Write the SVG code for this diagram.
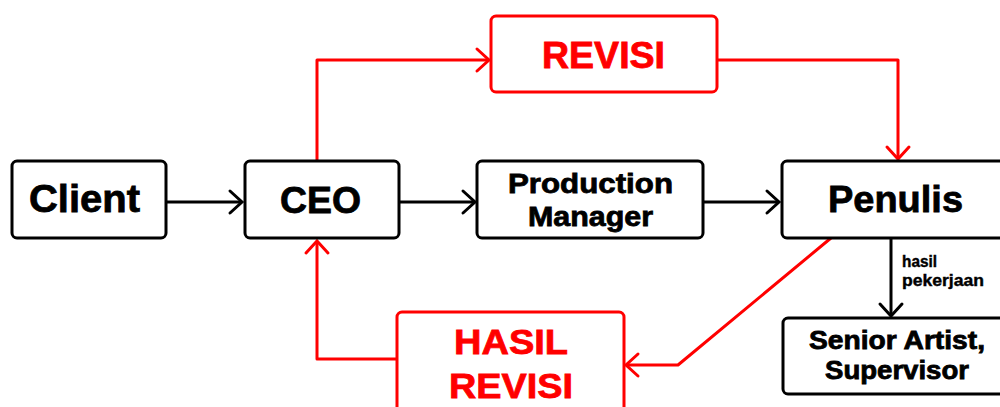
<svg xmlns="http://www.w3.org/2000/svg" width="1000" height="407" viewBox="0 0 1000 407">
<style>
.box{fill:#fff;stroke:#000;stroke-width:3}
.rbox{fill:#fff;stroke:#ff0000;stroke-width:3}
.t{font-family:"Liberation Sans",Arial,sans-serif;font-weight:bold;fill:#000;stroke:#000;stroke-width:0.8}
.rt{font-family:"Liberation Sans",Arial,sans-serif;font-weight:bold;fill:#ff0000;stroke:#ff0000;stroke-width:0.8}
.s{stroke-width:0.4}
.c{fill:none;stroke:#000;stroke-width:3}
.rc{fill:none;stroke:#ff0000;stroke-width:3;stroke-linejoin:round}
</style>
<defs>
<marker id="ab" markerUnits="userSpaceOnUse" markerWidth="30" markerHeight="30" refX="0" refY="0" viewBox="-16 -15 20 30" orient="auto" overflow="visible">
<path d="M-12,-11 L0,0 L-12,11" fill="none" stroke="#000" stroke-width="3" stroke-linecap="round" stroke-linejoin="miter"/>
</marker>
<marker id="ar" markerUnits="userSpaceOnUse" markerWidth="30" markerHeight="30" refX="0" refY="0" viewBox="-16 -15 20 30" orient="auto" overflow="visible">
<path d="M-12,-11 L0,0 L-12,11" fill="none" stroke="#ff0000" stroke-width="3" stroke-linecap="round" stroke-linejoin="miter"/>
</marker>
</defs>
<rect width="1000" height="407" fill="#fff"/>
<g id="connectors">
<line class="c" x1="166" y1="202" x2="242" y2="202" marker-end="url(#ab)"/>
<line class="c" x1="399" y1="202" x2="475" y2="202" marker-end="url(#ab)"/>
<line class="c" x1="703" y1="202" x2="779" y2="202" marker-end="url(#ab)"/>
<line class="c" x1="891" y1="238" x2="891" y2="316" marker-end="url(#ab)"/>
<polyline class="rc" points="317,161 317,60 489,60" marker-end="url(#ar)"/>
<polyline class="rc" points="717,60 898,60 898,159" marker-end="url(#ar)"/>
<polyline class="rc" points="831,238 678,365 626,365" marker-end="url(#ar)"/>
<polyline class="rc" points="397,359 317,359 317,241" marker-end="url(#ar)"/>
</g>
<g id="client">
<rect class="box" x="12" y="161" width="154" height="77" rx="5"/>
<text class="t" x="29" y="212" font-size="39.5" textLength="111" lengthAdjust="spacingAndGlyphs">Client</text>
</g>
<g id="ceo">
<rect class="box" x="245" y="161" width="154" height="77" rx="5"/>
<text class="t" x="280" y="213" font-size="37" textLength="81" lengthAdjust="spacingAndGlyphs">CEO</text>
</g>
<g id="production-manager">
<rect class="box" x="477" y="161" width="226" height="77" rx="5"/>
<text class="t" x="508" y="193" font-size="28" textLength="165" lengthAdjust="spacingAndGlyphs">Production</text>
<text class="t" x="528" y="226" font-size="28" textLength="125" lengthAdjust="spacingAndGlyphs">Manager</text>
</g>
<g id="penulis">
<rect class="box" x="782" y="161" width="227" height="77" rx="5"/>
<text class="t" x="828" y="212" font-size="37.5" textLength="135" lengthAdjust="spacingAndGlyphs">Penulis</text>
</g>
<g id="revisi">
<rect class="rbox" x="491" y="16" width="226" height="76" rx="5"/>
<text class="rt" x="542" y="68" font-size="36" textLength="123" lengthAdjust="spacingAndGlyphs">REVISI</text>
</g>
<g id="hasil-revisi">
<rect class="rbox" x="397" y="312" width="227" height="110" rx="5"/>
<text class="rt" x="454" y="354" font-size="35" textLength="114" lengthAdjust="spacingAndGlyphs">HASIL</text>
<text class="rt" x="449" y="398" font-size="35" textLength="124" lengthAdjust="spacingAndGlyphs">REVISI</text>
</g>
<g id="senior-artist">
<rect class="box" x="783" y="318" width="228" height="76" rx="5"/>
<text class="t" x="809" y="349" font-size="25.5" textLength="176" lengthAdjust="spacingAndGlyphs">Senior Artist,</text>
<text class="t" x="825" y="379" font-size="25.5" textLength="144" lengthAdjust="spacingAndGlyphs">Supervisor</text>
</g>
<g id="label-hasil-pekerjaan">
<text class="t s" x="902" y="267" font-size="16" textLength="35" lengthAdjust="spacingAndGlyphs">hasil</text>
<text class="t s" x="902" y="285.5" font-size="16" textLength="82" lengthAdjust="spacingAndGlyphs">pekerjaan</text>
</g>
</svg>
